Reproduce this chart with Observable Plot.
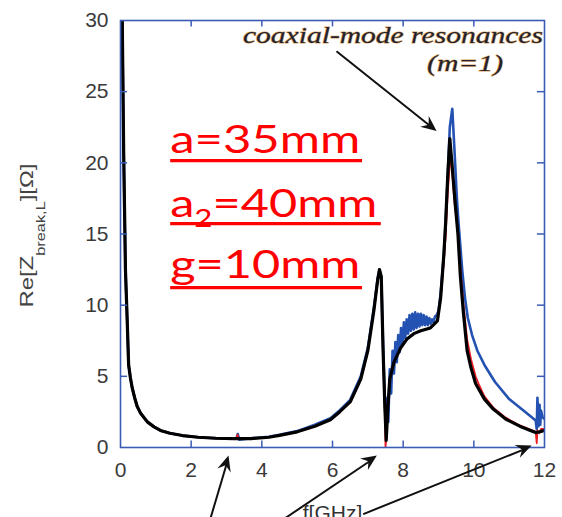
<!DOCTYPE html>
<html><head><meta charset="utf-8">
<script src="https://cdn.jsdelivr.net/npm/d3@7"></script>
<script src="https://cdn.jsdelivr.net/npm/@observablehq/plot@0.6"></script>
<style>body{margin:0;background:#fff;} svg{display:block;}</style>
</head><body><div id="chart"></div>
<script>
// ---- data (f in GHz, value in Ohm) ----
const blackF = [0.02,0.05,0.09,0.14,0.19,0.23,0.28,0.33,0.40,0.47,0.57,0.76,0.95,1.13,1.4,1.75,2.2,2.7,3.2,3.7,4.2,4.5,5.0,5.5,5.94,6.2,6.5,6.8,7.0,7.17,7.28,7.33,7.38,7.43,7.48,7.52,7.56,7.62,7.74,7.93,8.1,8.3,8.5,8.77,8.97,9.06,9.15,9.2,9.26,9.32,9.38,9.46,9.55,9.62,9.7,9.81,9.92,10.05,10.3,10.55,10.9,11.3,11.6,11.75,11.85,12.0];
const blackV = [40,30,20.7,12.5,8.9,5.8,4.9,4.2,3.5,2.9,2.4,1.8,1.45,1.2,1.0,0.84,0.72,0.65,0.62,0.63,0.72,0.85,1.1,1.5,1.95,2.5,3.2,4.8,6.8,9.6,11.8,12.5,12.0,7.0,3.0,0.5,2.5,4.8,6.0,7.0,7.6,8.0,8.2,8.4,8.9,10.5,13.5,15.7,19,21.7,20,17.5,15,12,9.6,6.8,5.6,4.5,3.4,2.7,2.0,1.5,1.2,1.05,1.1,1.2];

const redF = [0.02,0.05,0.09,0.14,0.19,0.23,0.28,0.33,0.40,0.47,0.57,0.76,0.95,1.13,1.4,1.75,2.2,2.7,3.2,3.28,3.31,3.34,3.7,4.2,4.5,5.0,5.5,5.94,6.2,6.5,6.8,7.0,7.17,7.28,7.33,7.38,7.43,7.48,7.5,7.53,7.56,7.62,7.74,7.93,8.1,8.3,8.5,8.77,8.97,9.06,9.15,9.2,9.26,9.32,9.34,9.38,9.46,9.55,9.62,9.7,9.81,9.92,10.05,10.13,10.3,10.55,10.9,11.3,11.6,11.75,11.78,11.8,11.85,11.9,12.0];
const redV = [40,30,20.7,12.5,8.9,5.8,4.9,4.2,3.5,2.9,2.4,1.8,1.45,1.2,1.0,0.84,0.72,0.65,0.62,0.62,0.9,0.6,0.63,0.72,0.85,1.1,1.5,1.95,2.5,3.2,4.8,6.8,9.6,11.8,12.4,11.9,7.0,3.0,0.0,0.8,2.5,4.8,6.0,7.0,7.6,8.0,8.2,8.4,8.9,10.4,13.0,14.8,17.8,20.0,20.3,19.6,17.0,15.2,12.5,10.2,7.6,6.2,5.0,4.5,3.6,2.8,2.1,1.55,1.25,1.1,0.3,1.2,1.0,1.3,1.3];

const blueF = [0.02,0.05,0.09,0.14,0.19,0.23,0.28,0.33,0.40,0.47,0.57,0.76,0.95,1.13,1.4,1.75,2.2,2.7,3.2,3.28,3.32,3.36,3.7,4.2,4.5,5.0,5.5,5.94,6.2,6.5,6.8,7.0,7.17,7.28,7.33,7.38,7.43,7.48,7.52,7.55,7.58,7.62,7.66,7.70,7.74,7.78,7.82,7.86,7.90,7.94,7.98,8.02,8.06,8.10,8.14,8.18,8.22,8.26,8.30,8.34,8.38,8.42,8.46,8.50,8.54,8.58,8.62,8.66,8.70,8.74,8.78,8.82,8.86,8.90,8.95,9.0,9.06,9.15,9.2,9.26,9.32,9.39,9.45,9.52,9.57,9.67,9.75,9.83,9.95,10.1,10.3,10.6,11.0,11.5,11.75,11.78,11.8,11.83,11.86,11.88,11.9,11.95,12.0];
const blueV = [40,30,20.7,12.5,8.9,5.8,4.9,4.2,3.5,2.9,2.4,1.8,1.45,1.2,1.0,0.84,0.72,0.65,0.62,0.62,0.95,0.55,0.65,0.75,0.9,1.15,1.6,2.05,2.6,3.35,5.0,7.0,9.8,11.9,12.5,12.0,7.2,3.2,0.8,3.5,1.8,5.5,3.8,6.8,5.2,7.4,6.0,7.9,6.7,8.4,7.2,8.8,7.7,9.0,8.0,9.3,8.2,9.4,8.3,9.5,8.4,9.4,8.5,9.4,8.6,9.3,8.6,9.2,8.6,9.1,8.7,9.0,8.8,9.2,9.3,9.6,10.8,13.5,15.7,19,22.5,23.8,21,17.5,15.7,12.5,10.5,9.1,7.9,6.8,5.8,4.6,3.4,2.4,1.9,1.3,3.5,1.5,3.0,1.6,2.6,2.1,2.0];

// axis ticks
const xTicks = [2,4,6,8,10];
const yTicks = [5,10,15,20,25];
const xLabels = [0,2,4,6,8,10,12];
const yLabels = [0,5,10,15,20,25,30];
const xTitle = "f[GHz]";

// annotations (data coordinates)
const arrows = [
  {x1: 6.13, y1: 27.8, x2: 8.96, y2: 22.2},
  {x1: 2.55, y1: -4.95, x2: 3.07, y2: -0.6},
  {x1: 4.67, y1: -4.95, x2: 7.27, y2: -0.6},
  {x1: 6.89, y1: -4.66, x2: 11.65, y2: 0.1}
];
const noteLines = ["coaxial-mode resonances", "(m=1)"];
const noteX = [3.48, 8.69];
const noteY = [28.39, 26.45];
const noteLen = [300, 76];

const paramName = ["a", "a", "g"];
const paramSub = ["", "2", ""];
const paramValue = ["=35mm", "=40mm", "=10mm"];
const paramX = 1.42;
const paramY = [20.66, 16.16, 11.88];
const paramLen = [190, 207, 190];
const underlineY = [20.12, 15.7, 11.2];
const underlineEnd = [6.85, 7.38, 6.85];

const yTitle = ["Re[Z", "break,L", "][Ω]"];

const toRows = (F, V) => F.map((f, i) => ({f, v: V[i]}));
const black = toRows(blackF, blackV);
const red = toRows(redF, redV);
const blue = toRows(blueF, blueV);

const frameColor = "#3a5cb4";

const chart = Plot.plot({
  width: 562, height: 517,
  marginLeft: 120, marginRight: 18, marginTop: 20, marginBottom: 70,
  x: {domain: [0, 12]},
  y: {domain: [0, 30]},
  style: {fontFamily: "'Liberation Sans', Arial, sans-serif", background: "#fff", overflow: "visible"},
  marks: [
    Plot.line(blue, {x: "f", y: "v", stroke: "#2452b2", strokeWidth: 2.6, clip: true}),
    Plot.line(red, {x: "f", y: "v", stroke: "#ee1c24", strokeWidth: 1.8, clip: true}),
    Plot.line(black, {x: "f", y: "v", stroke: "#000", strokeWidth: 3.2, clip: true}),
    Plot.frame({stroke: frameColor, strokeWidth: 1.6}),
    Plot.ruleX(xTicks, {x: d => d, y1: 0, y2: 0.45, stroke: frameColor, strokeWidth: 1.5}),
    Plot.ruleX(xTicks, {x: d => d, y1: 30, y2: 29.55, stroke: frameColor, strokeWidth: 1.5}),
    Plot.ruleY(yTicks, {y: d => d, x1: 0, x2: 0.2, stroke: frameColor, strokeWidth: 1.5}),
    Plot.ruleY(yTicks, {y: d => d, x1: 12, x2: 11.8, stroke: frameColor, strokeWidth: 1.5}),
    Plot.axisX({ticks: xLabels, tickSize: 0, tickPadding: 15, fontSize: 21, fill: "#3a3a3a", label: null}),
    Plot.axisY({ticks: yLabels, tickSize: 0, tickPadding: 12, fontSize: 21, fill: "#3a3a3a", label: null}),
    Plot.text([xTitle], {frameAnchor: "bottom", dy: 72, lineAnchor: "bottom", fontSize: 21, fill: "#333", text: d => d}),
    Plot.arrow(arrows, {x1: "x1", y1: "y1", x2: "x2", y2: "y2", stroke: "#111", strokeWidth: 2, headLength: 0, insetEnd: 8})
  ]
});
document.getElementById("chart").append(chart);

const sx = chart.scale("x"), sy = chart.scale("y");
const svg = d3.select(chart);

// filled arrowheads
arrows.forEach(a => {
  const x1 = sx.apply(a.x1), y1 = sy.apply(a.y1), x2 = sx.apply(a.x2), y2 = sy.apply(a.y2);
  const ang = Math.atan2(y2 - y1, x2 - x1), L = 17, W = 0.42;
  const p = [[x2, y2],
    [x2 - L * Math.cos(ang - W), y2 - L * Math.sin(ang - W)],
    [x2 - 0.6 * L * Math.cos(ang), y2 - 0.6 * L * Math.sin(ang)],
    [x2 - L * Math.cos(ang + W), y2 - L * Math.sin(ang + W)]];
  svg.append("polygon").attr("points", p.map(q => q.join(",")).join(" ")).attr("fill", "#111");
});

// coaxial-mode note
noteLines.forEach((t, i) => {
  svg.append("text")
    .attr("x", sx.apply(noteX[i])).attr("y", sy.apply(noteY[i]))
    .attr("text-anchor", "start")
    .attr("textLength", noteLen[i]).attr("lengthAdjust", "spacingAndGlyphs")
    .attr("font-family", "'Liberation Serif', 'Times New Roman', serif")
    .attr("font-style", "italic").attr("font-size", 23)
    .attr("fill", "#222230").attr("stroke", "#d9a35c").attr("stroke-width", 1)
    .attr("paint-order", "stroke")
    .text(t);
});

// red parameter labels
paramName.forEach((n, i) => {
  const t = svg.append("text")
    .attr("x", sx.apply(paramX)).attr("y", sy.apply(paramY[i]))
    .attr("text-anchor", "start")
    .attr("textLength", paramLen[i]).attr("lengthAdjust", "spacingAndGlyphs")
    .attr("font-family", "Lato, 'Liberation Sans', sans-serif")
    .attr("font-size", 39).attr("fill", "#ff0000");
  t.append("tspan").text(n);
  if (paramSub[i]) t.append("tspan").attr("font-size", 25).attr("dy", 10).text(paramSub[i]);
  t.append("tspan").attr("dy", paramSub[i] ? -10 : 0).text(paramValue[i]);
  svg.append("line")
    .attr("x1", sx.apply(paramX)).attr("x2", sx.apply(underlineEnd[i]))
    .attr("y1", sy.apply(underlineY[i])).attr("y2", sy.apply(underlineY[i]))
    .attr("stroke", "#ff0000").attr("stroke-width", 3.2);
});

// y-axis title with subscript
const yt = svg.append("text")
  .attr("transform", `translate(33,${(sy.apply(0) + sy.apply(30)) / 2 + 2}) rotate(-90)`)
  .attr("text-anchor", "middle")
  .attr("textLength", 144).attr("lengthAdjust", "spacingAndGlyphs")
  .attr("font-family", "'Liberation Sans', Arial, sans-serif")
  .attr("font-size", 19).attr("fill", "#444");
yt.append("tspan").text(yTitle[0]);
yt.append("tspan").attr("font-size", 13).attr("dy", 12).text(yTitle[1]);
yt.append("tspan").attr("dy", -12).text(yTitle[2]);
</script></body></html>
